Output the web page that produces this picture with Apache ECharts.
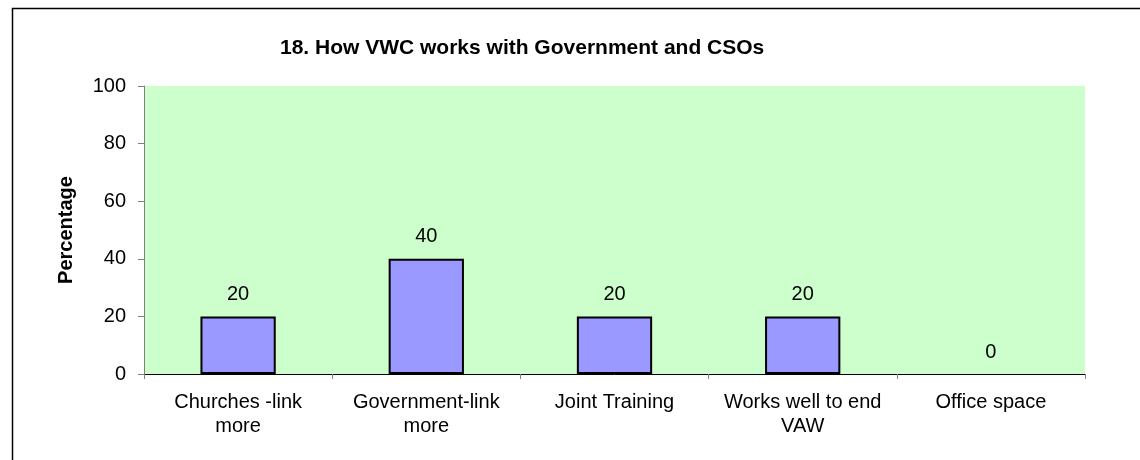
<!DOCTYPE html>
<html>
<head>
<meta charset="utf-8">
<script src="https://cdn.jsdelivr.net/npm/echarts@6/dist/echarts.min.js"></script>
<style>
  html, body { margin: 0; padding: 0; background: #fff; }
  #chart { width: 1140px; height: 460px; }
</style>
</head>
<body>
<div id="chart"></div>
<script>
// chart data
const categories = ['Churches -link\nmore', 'Government-link\nmore', 'Joint Training', 'Works well to end\nVAW', 'Office space'];
const percentages = [20, 40, 20, 20, 0];
const yTicks = [0, 20, 40, 60, 80, 100];

const chart = echarts.init(document.getElementById('chart'));

chart.setOption({
  animation: false,
  textStyle: { fontFamily: 'Liberation Sans, Arial, sans-serif' },
  title: {
    text: '18. How VWC works with Government and CSOs',
    left: 275,
    top: 33,
    textStyle: { fontSize: 21, fontWeight: 'bold', color: '#000' }
  },
  graphic: [
    {
      type: 'rect',
      shape: { x: 12.5, y: 8.5, width: 1300, height: 600 },
      style: { fill: 'none', stroke: '#000', lineWidth: 1.5 },
      silent: true
    }
  ],
  grid: {
    left: 144,
    right: 55,
    top: 86,
    bottom: 86,
    show: true,
    backgroundColor: '#CCFFCC',
    borderWidth: 0
  },
  xAxis: {
    type: 'category',
    data: categories,
    axisLine: { lineStyle: { color: '#000', width: 1 } },
    axisTick: { show: true, length: 5, lineStyle: { color: '#808080' } },
    axisLabel: { color: '#000', fontSize: 20, margin: 16, lineHeight: 24, interval: 0 }
  },
  yAxis: {
    type: 'value',
    min: yTicks[0],
    max: yTicks[yTicks.length - 1],
    interval: yTicks[1] - yTicks[0],
    name: 'Percentage',
    nameLocation: 'middle',
    nameGap: 68,
    nameTextStyle: { fontSize: 20, fontWeight: 'bold', color: '#000' },
    axisLine: { show: true, lineStyle: { color: '#808080', width: 1 } },
    axisTick: { show: true, length: 6, lineStyle: { color: '#808080' } },
    axisLabel: { color: '#000', fontSize: 20, margin: 18 },
    splitLine: { show: false }
  },
  series: [
    {
      type: 'bar',
      data: percentages.map(v => (v === 0 ? { value: v, itemStyle: { borderWidth: 0 } } : v)),
      barWidth: '40%',
      itemStyle: { color: '#9999FF', borderColor: '#000', borderWidth: 2 },
      label: { show: true, position: 'top', distance: 12, fontSize: 20, color: '#000' }
    }
  ]
});
</script>
</body>
</html>
